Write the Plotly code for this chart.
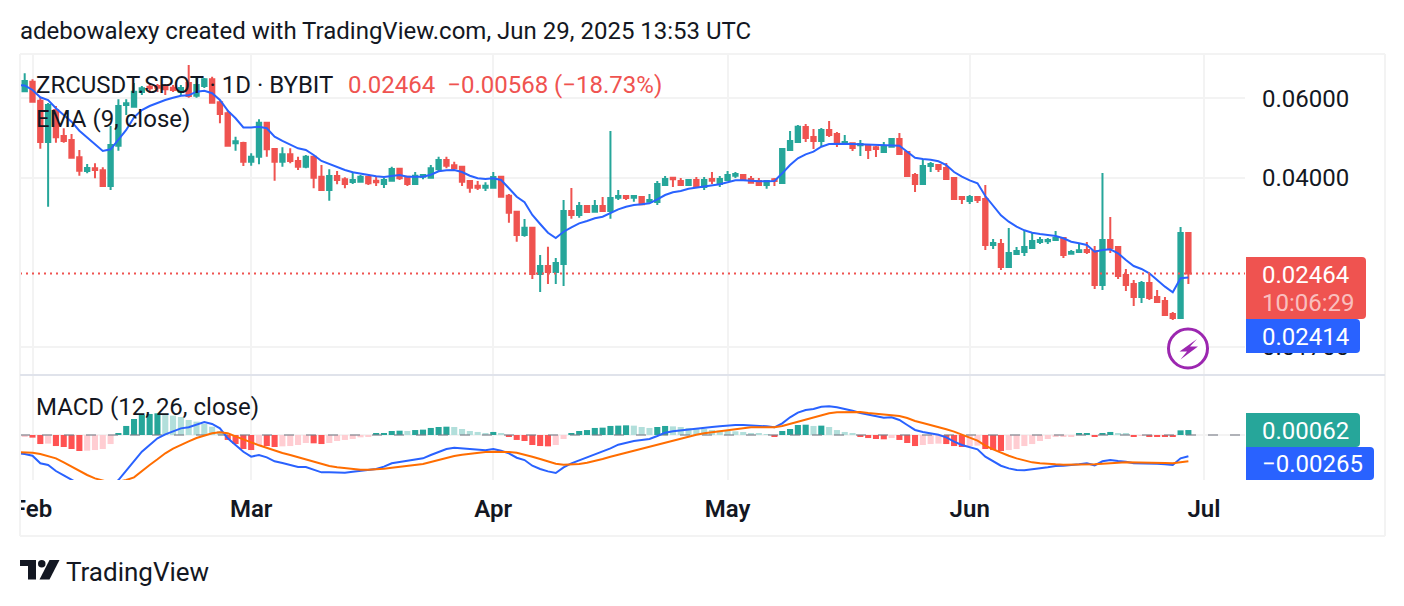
import pandas as pd
import plotly.graph_objects as go

# daily candles, ZRCUSDT spot, Jan 31 to Jun 29 2025
opens = [
    .06211,.06522,.05922,.04803,.05649,.04951,.04851,.04443,.04145,.04202,
    .04160,.03841,.04713,.05794,.05745,.06190,.06359,.06381,.06359,.06327,
    .06190,.06479,.06074,.06381,.06601,.05874,.05555,.04770,.04778,.04345,
    .04457,.05297,.04634,.04345,.04511,.04361,.04236,.04457,.04026,.03764,
    .04040,.03973,.03919,.03925,.04026,.03945,.03880,.03945,.04194,.04026,
    .03880,.04026,.04006,.04181,.04383,.04267,.04236,.03939,.03846,.03807,
    .03807,.04026,.03656,.03371,.02995,.03108,.02457,.02559,.02483,.02585,
    .03383,.03315,.03470,.03371,.03470,.03383,.03618,.03650,.03618,.03632,
    .03547,.03541,.03860,.04006,.03939,.03860,.03959,.03822,.03979,.03880,
    .03959,.04047,.04061,.03979,.03939,.03860,.03973,.03899,.04611,.04803,
    .05183,.04926,.04827,.05104,.05001,.04753,.04770,.04722,.04729,.04675,
    .04565,.04689,.04876,.04565,.04061,.03880,.04252,.04273,.04209,.04000,
    .03632,.03559,.03632,.03595,.02847,.02861,.02546,.02720,.02747,.02803,
    .02891,.02901,.02920,.02950,.02724,.02747,.02775,.02761,.02324,.02920,
    .02818,.02445,.02336,.02187,.02348,.02187,.02142,.02005,.01965,.03026,
]
highs = [
    .06806,.06601,.06026,.05854,.05765,.05149,.05001,.04611,.04295,.04310,
    .04224,.05209,.05964,.05964,.06479,.06381,.06479,.06446,.06446,.06413,
    .06413,.07099,.06646,.06646,.06688,.05943,.05649,.04934,.04809,.04534,
    .05388,.05297,.04651,.04675,.04651,.04457,.04495,.04473,.04273,.04181,
    .04145,.04014,.04130,.04061,.04047,.04026,.04000,.04236,.04215,.04026,
    .04124,.04061,.04273,.04457,.04457,.04345,.04252,.03959,.03939,.03913,
    .04124,.04040,.03688,.03383,.03248,.03108,.02706,.02823,.02665,.03577,
    .03802,.03541,.03488,.03577,.03632,.05078,.03764,.03650,.03669,.03650,
    .03688,.03939,.04040,.04026,.04000,.03979,.04020,.04020,.04124,.04040,
    .04145,.04124,.04081,.04040,.04000,.03959,.04000,.04656,.05078,.05235,
    .05262,.05130,.05156,.05342,.05053,.04976,.04778,.04851,.04753,.04705,
    .04803,.04901,.05027,.04588,.04102,.04405,.04339,.04295,.04317,.04020,
    .03632,.03669,.03650,.03860,.02935,.02935,.03103,.02818,.03057,.03026,
    .02965,.02950,.03057,.02965,.02775,.02861,.02891,.02832,.04102,.03281,
    .02818,.02521,.02383,.02371,.02470,.02266,.02187,.02026,.03119,.03042,
]
lows = [
    .06180,.05892,.04641,.03458,.04785,.04785,.04434,.04047,.04096,.03993,
    .03827,.03764,.04595,.05507,.05716,.06096,.06158,.06190,.06096,.06190,
    .06065,.06013,.06013,.06317,.05862,.05280,.04713,.04595,.04252,.04258,
    .04288,.04457,.03945,.04236,.04310,.04166,.04202,.03796,.03764,.03565,
    .03874,.03796,.03880,.03919,.03860,.03841,.03802,.03945,.03959,.03841,
    .03880,.03973,.04000,.04130,.04202,.04181,.03841,.03713,.03764,.03745,
    .03807,.03638,.03188,.02895,.02970,.02395,.02243,.02336,.02336,.02312,
    .03253,.03269,.03354,.03371,.03371,.03253,.03577,.03577,.03547,.03482,
    .03541,.03488,.03860,.03822,.03860,.03841,.03807,.03764,.03880,.03822,
    .03953,.04000,.03939,.03905,.03841,.03789,.03841,.03880,.04611,.04803,
    .04803,.04634,.04682,.04926,.04682,.04746,.04588,.04473,.04405,.04450,
    .04541,.04682,.04518,.04040,.03726,.03880,.04124,.04124,.03959,.03595,
    .03506,.03506,.03524,.02775,.02789,.02508,.02546,.02720,.02692,.02789,
    .02861,.02861,.02905,.02665,.02720,.02747,.02720,.02277,.02266,.02733,
    .02395,.02255,.02089,.02121,.02153,.02131,.01985,.01945,.01965,.02336,
]
closes = [
    .06545,.05892,.04803,.05794,.04919,.04827,.04434,.04151,.04209,.04166,
    .03841,.04729,.05765,.05845,.06200,.06307,.06307,.06327,.06275,.06253,
    .06317,.06065,.06413,.06601,.05862,.05535,.04713,.04819,.04345,.04457,
    .05297,.04627,.04345,.04511,.04361,.04236,.04457,.04006,.03764,.04040,
    .03959,.03880,.03959,.04026,.03893,.03913,.03959,.04187,.03994,.03880,
    .04047,.04061,.04202,.04383,.04258,.04202,.03925,.03807,.03807,.03846,
    .04020,.03638,.03354,.02995,.03108,.02457,.02559,.02483,.02598,.03383,
    .03315,.03470,.03366,.03470,.03383,.03613,.03650,.03613,.03650,.03500,
    .03577,.03880,.03979,.03973,.03860,.03959,.03822,.03959,.03945,.03979,
    .04061,.04081,.03959,.03905,.03860,.03939,.03939,.04634,.04827,.05190,
    .04901,.04827,.05104,.04976,.04753,.04803,.04656,.04753,.04611,.04634,
    .04705,.04876,.04518,.04040,.03880,.04252,.04295,.04187,.03979,.03595,
    .03595,.03632,.03577,.02847,.02876,.02546,.02733,.02761,.02818,.02905,
    .02920,.02920,.02950,.02706,.02747,.02771,.02747,.02324,.02920,.02803,
    .02433,.02324,.02187,.02348,.02176,.02131,.01995,.01965,.03026,.02464,
]

# these three start one day earlier (Jan 30), so they run in from the left edge
ema9 = [
    .06413,.06397,.06253,.06026,.05943,.05698,.05507,.05323,.05086,.04919,.04753,
    .04588,.04627,.04851,.05104,.05444,.05649,.05765,.05862,.05943,.06013,
    .06074,.06086,.06200,.06231,.06150,.05943,.05629,.05416,.05169,.05169,
    .05190,.05149,.04934,.04827,.04729,.04651,.04611,.04495,.04361,.04295,
    .04224,.04166,.04118,.04088,.04061,.04034,.04020,.04047,.04061,.04026,
    .04026,.04026,.04067,.04138,.04160,.04166,.04124,.04047,.03994,.03979,
    .03994,.03959,.03796,.03638,.03536,.03315,.03167,.03030,.02950,.03045,
    .03115,.03178,.03216,.03260,.03286,.03354,.03412,.03458,.03488,.03500,
    .03518,.03590,.03669,.03720,.03745,.03789,.03807,.03827,.03854,.03874,
    .03913,.03953,.03953,.03939,.03933,.03933,.03939,.04096,.04273,.04420,
    .04511,.04572,.04689,.04753,.04761,.04761,.04753,.04746,.04729,.04722,
    .04713,.04713,.04713,.04572,.04434,.04405,.04389,.04354,.04273,.04124,
    .04026,.03953,.03893,.03650,.03470,.03310,.03205,.03124,.03067,.03030,
    .03010,.02995,.02980,.02946,.02895,.02871,.02847,.02752,.02775,.02785,
    .02730,.02638,.02559,.02521,.02466,.02383,.02304,.02240,.02404,.02414,
]
macd_line = [
    -.00229,-.00238,-.00259,-.00354,-.00375,-.00450,-.00505,-.00563,-.00613,-.00667,-.00688,
    -.00688,-.00655,-.00563,-.00446,-.00334,-.00209,-.00125,-.00042,.00008,.00042,
    .00083,.00096,.00129,.00163,.00138,.00083,-.00042,-.00125,-.00209,-.00271,
    -.00250,-.00279,-.00329,-.00350,-.00375,-.00400,-.00400,-.00430,-.00467,-.00467,
    -.00471,-.00471,-.00459,-.00446,-.00438,-.00425,-.00396,-.00354,-.00338,-.00325,
    -.00313,-.00292,-.00250,-.00209,-.00175,-.00158,-.00167,-.00179,-.00188,-.00192,
    -.00175,-.00196,-.00229,-.00284,-.00313,-.00384,-.00425,-.00455,-.00475,-.00404,
    -.00354,-.00317,-.00279,-.00242,-.00209,-.00167,-.00121,-.00096,-.00075,-.00063,
    -.00050,-.00013,.00029,.00046,.00058,.00071,.00079,.00092,.00100,.00108,
    .00117,.00125,.00125,.00121,.00113,.00108,.00096,.00146,.00221,.00279,
    .00313,.00325,.00354,.00359,.00346,.00329,.00304,.00275,.00254,.00229,
    .00217,.00221,.00188,.00125,.00063,.00038,.00021,.00004,-.00029,-.00083,
    -.00125,-.00154,-.00179,-.00271,-.00325,-.00384,-.00417,-.00438,-.00442,-.00434,
    -.00417,-.00404,-.00388,-.00384,-.00379,-.00367,-.00354,-.00379,-.00329,-.00313,
    -.00325,-.00334,-.00354,-.00354,-.00354,-.00359,-.00367,-.00375,-.00292,-.00265,
]
signal_line = [
    -.00213,-.00217,-.00221,-.00238,-.00263,-.00292,-.00342,-.00396,-.00446,-.00500,-.00542,
    -.00571,-.00596,-.00584,-.00563,-.00530,-.00450,-.00375,-.00304,-.00229,-.00171,
    -.00121,-.00079,-.00038,-.00004,.00021,.00033,.00021,-.00017,-.00058,-.00092,
    -.00129,-.00163,-.00196,-.00225,-.00250,-.00279,-.00304,-.00338,-.00367,-.00388,
    -.00404,-.00417,-.00430,-.00434,-.00434,-.00430,-.00421,-.00409,-.00396,-.00384,
    -.00379,-.00363,-.00338,-.00313,-.00284,-.00263,-.00246,-.00234,-.00221,-.00213,
    -.00209,-.00209,-.00213,-.00221,-.00242,-.00271,-.00300,-.00329,-.00359,-.00371,
    -.00371,-.00363,-.00346,-.00325,-.00300,-.00271,-.00246,-.00221,-.00196,-.00171,
    -.00146,-.00117,-.00092,-.00067,-.00042,-.00017,.00004,.00021,.00033,.00046,
    .00063,.00075,.00088,.00096,.00096,.00096,.00096,.00113,.00138,.00167,
    .00188,.00217,.00246,.00271,.00284,.00288,.00292,.00288,.00275,.00267,
    .00259,.00254,.00238,.00213,.00175,.00150,.00125,.00104,.00071,.00042,
    .00000,-.00033,-.00071,-.00133,-.00179,-.00221,-.00259,-.00292,-.00321,-.00342,
    -.00354,-.00363,-.00367,-.00371,-.00371,-.00367,-.00367,-.00367,-.00359,-.00350,
    -.00346,-.00342,-.00342,-.00342,-.00346,-.00346,-.00350,-.00354,-.00346,-.00329,
]
hist = [
    -.00021,-.00033,-.00113,-.00108,-.00138,-.00150,-.00175,-.00200,-.00196,-.00188,
    -.00175,-.00113,.00025,.00113,.00200,.00250,.00263,.00271,.00250,.00242,
    .00225,.00188,.00167,.00138,.00104,.00050,-.00062,-.00113,-.00175,-.00188,
    -.00125,-.00138,-.00150,-.00142,-.00138,-.00125,-.00100,-.00104,-.00113,-.00100,
    -.00075,-.00062,-.00050,-.00029,-.00013,.00013,.00025,.00050,.00054,.00050,
    .00062,.00067,.00088,.00100,.00104,.00100,.00075,.00050,.00038,.00025,
    .00038,.00013,-.00025,-.00062,-.00075,-.00125,-.00138,-.00142,-.00125,-.00050,
    .00013,.00050,.00062,.00088,.00092,.00113,.00117,.00121,.00117,.00100,
    .00088,.00100,.00113,.00108,.00100,.00088,.00083,.00075,.00062,.00054,
    .00050,.00046,.00038,.00021,.00013,.00008,-.00013,.00050,.00075,.00125,
    .00129,.00113,.00117,.00100,.00062,.00038,.00013,-.00013,-.00038,-.00050,
    -.00054,-.00038,-.00062,-.00100,-.00138,-.00125,-.00113,-.00108,-.00113,-.00138,
    -.00150,-.00138,-.00133,-.00175,-.00188,-.00200,-.00188,-.00175,-.00138,-.00113,
    -.00075,-.00050,-.00025,-.00021,-.00013,.00013,.00017,-.00013,.00025,.00038,
    .00025,.00013,-.00013,-.00008,-.00013,-.00017,-.00021,-.00025,.00058,.00062,
]

price_ticks = [0.017, 0.04, 0.06]
month_ticks = ["2025-02-01", "2025-03-01", "2025-04-01", "2025-05-01", "2025-06-01", "2025-07-01"]
month_labels = ["Feb", "Mar", "Apr", "May", "Jun", "Jul"]
last_price = 0.02464

INK = "#131722"
UP = "#26a69a"
DOWN = "#ef5350"
BLUE = "#2962ff"
ORANGE = "#ff6d00"
GRID = "#f3f3f3"
FONT = "Roboto"
W, H = 1404, 606

dates = pd.date_range("2025-01-31", periods=len(closes))
line_dates = pd.date_range("2025-01-30", periods=len(ema9))
x_range = ["2025-01-30 09:36", "2025-07-06 06:00"]


def px(x):
    return x / W


def py(y):
    return 1 - y / H


def hist_colors(values):
    out = []
    prev = None
    for v in values:
        rising = prev is None or v > prev
        if v >= 0:
            out.append(UP if rising else "#b2dfdb")
        else:
            out.append("#ffcdd2" if rising else "#ff5252")
        prev = v
    return out


def label(x, y, text, size=24, color=INK, anchor="left"):
    return dict(
        x=px(x), y=py(y), xref="paper", yref="paper", text=text, showarrow=False,
        xanchor=anchor, yanchor="middle", borderpad=0, borderwidth=0,
        font=dict(family=FONT, size=size, color=color),
    )


def rule(x0, y0, x1, y1, color, width=2):
    return dict(
        type="line", xref="paper", yref="paper", x0=px(x0), y0=py(y0), x1=px(x1), y1=py(y1),
        line=dict(color=color, width=width), layer="above",
    )


def poly(points, color):
    path = "M" + " L".join(f"{px(x)},{py(y)}" for x, y in points) + " Z"
    return dict(type="path", xref="paper", yref="paper", path=path,
                fillcolor=color, line=dict(width=0), layer="above")


def badge(x0, x1, y0, y1, color, r=4):
    path = (
        f"M{px(x0)},{py(y0)} L{px(x1 - r)},{py(y0)} Q{px(x1)},{py(y0)} {px(x1)},{py(y0 + r)} "
        f"L{px(x1)},{py(y1 - r)} Q{px(x1)},{py(y1)} {px(x1 - r)},{py(y1)} L{px(x0)},{py(y1)} Z"
    )
    return dict(type="path", xref="paper", yref="paper", path=path,
                fillcolor=color, line=dict(width=0), layer="above")


fig = go.Figure()

fig.add_trace(go.Candlestick(
    x=dates, open=opens, high=highs, low=lows, close=closes,
    xaxis="x", yaxis="y",
    increasing=dict(line=dict(color=UP, width=2), fillcolor=UP),
    decreasing=dict(line=dict(color=DOWN, width=2), fillcolor=DOWN),
    whiskerwidth=0,
))
fig.add_trace(go.Scatter(
    x=line_dates, y=ema9, mode="lines", xaxis="x", yaxis="y",
    line=dict(color=BLUE, width=2),
))
fig.add_trace(go.Scatter(
    x=x_range, y=[last_price, last_price], mode="lines", xaxis="x", yaxis="y",
    line=dict(color=DOWN, width=2, dash="2px,4px"),
))

fig.add_trace(go.Bar(
    x=dates, y=hist, xaxis="x2", yaxis="y2",
    marker=dict(color=hist_colors(hist), line=dict(width=0)),
))
fig.add_trace(go.Scatter(
    x=x_range, y=[0, 0], mode="lines", xaxis="x2", yaxis="y2",
    line=dict(color="rgba(120,123,134,0.55)", width=2, dash="10px,12px"),
))
fig.add_trace(go.Scatter(
    x=line_dates, y=macd_line, mode="lines", xaxis="x2", yaxis="y2",
    line=dict(color=BLUE, width=2),
))
fig.add_trace(go.Scatter(
    x=line_dates, y=signal_line, mode="lines", xaxis="x2", yaxis="y2",
    line=dict(color=ORANGE, width=2),
))

shapes = [
    # chart frame and pane separator
    rule(20, 54, 1385, 54, GRID),
    rule(20, 536, 1385, 536, GRID),
    rule(20, 54, 20, 536, GRID),
    rule(1385, 54, 1385, 536, GRID),
    rule(20, 375, 1385, 375, "#e0e3eb"),
    # "Feb" runs off the left of the frame
    dict(type="rect", xref="paper", yref="paper", x0=0, x1=px(19), y0=py(530), y1=py(490),
         fillcolor="white", line=dict(width=0), layer="above"),
    # price badges
    badge(1246, 1366, 257, 319, DOWN),
    badge(1246, 1360, 319, 353, BLUE),
    badge(1246, 1360, 413, 447, UP),
    badge(1246, 1374, 447, 480, BLUE),
    # purple bolt marker
    dict(type="circle", xref="paper", yref="paper", x0=px(1168.5), x1=px(1207.5),
         y0=py(368), y1=py(329), fillcolor="white", line=dict(color="#9c27b0", width=3),
         layer="above"),
    poly([(1197, 339), (1179.5, 351.5), (1187, 351.5), (1180.5, 359.5),
          (1198, 346.5), (1190, 346.5)], "#9c27b0"),
    # TradingView logo
    poly([(20, 560), (36, 560), (36, 579.5), (28, 579.5), (28, 566), (20, 566)], INK),
    poly([(49.5, 560), (59.5, 560), (49.5, 579.5), (39.5, 579.5)], INK),
    dict(type="circle", xref="paper", yref="paper", x0=px(38), x1=px(45.5),
         y0=py(567.5), y1=py(560), fillcolor=INK, line=dict(width=0), layer="above"),
]

annotations = [
    label(20, 31, "adebowalexy created with TradingView.com, Jun 29, 2025 13:53 UTC"),
    label(36, 85, "ZRCUSDT.SPOT · 1D · BYBIT"),
    label(348, 85, "0.02464  −0.00568 (−18.73%)", color=DOWN),
    label(36, 119, "EMA (9, close)"),
    label(36, 407, "MACD (12, 26, close)"),
    label(1262, 274.5, "0.02464", color="white"),
    label(1262, 303, "10:06:29", color="rgba(255,255,255,0.65)"),
    label(1262, 337, "0.02414", color="white"),
    label(1262, 431, "0.00062", color="white"),
    label(1262, 464, "−0.00265", color="white"),
    label(66, 572, "TradingView", size=26),
]

fig.update_layout(
    width=W, height=H,
    margin=dict(l=0, r=0, t=0, b=0, autoexpand=False),
    paper_bgcolor="white", plot_bgcolor="white",
    showlegend=False, hovermode=False,
    bargap=0.22, boxgap=0.2,
    font=dict(family=FONT, color=INK, size=24),
    shapes=shapes, annotations=annotations,
    xaxis=dict(
        domain=[px(20), px(1245)], range=x_range, anchor="y", rangeslider=dict(visible=False),
        tickmode="array", tickvals=month_ticks, showticklabels=False,
        showgrid=True, gridcolor=GRID, gridwidth=2, zeroline=False, showline=False, ticks="",
    ),
    xaxis2=dict(
        domain=[px(20), px(1245)], range=x_range, anchor="y2", rangeslider=dict(visible=False),
        tickmode="array", tickvals=month_ticks, ticktext=month_labels,
        tickfont=dict(family=FONT, size=24, color=INK, weight=600),
        ticklabelstandoff=12,
        showgrid=True, gridcolor=GRID, gridwidth=2, zeroline=False, showline=False, ticks="",
    ),
    yaxis=dict(
        domain=[py(375), py(55)], type="log", range=[-1.8322, -1.1268], anchor="x", side="right",
        tickmode="array", tickvals=price_ticks, tickformat=".5f",
        tickfont=dict(family=FONT, size=24, color=INK), ticklabelstandoff=16,
        showgrid=True, gridcolor=GRID, gridwidth=2, zeroline=False, showline=False, ticks="",
    ),
    yaxis2=dict(
        domain=[py(480), py(375)], range=[-0.005625, 0.0075], anchor="x2", side="right",
        tickmode="array", tickvals=[0], showticklabels=False,
        showgrid=True, gridcolor=GRID, gridwidth=2, zeroline=False, showline=False, ticks="",
    ),
)

fig.write_html("out.html", config={"displayModeBar": False},
               post_script="document.body.style.margin='0';")
